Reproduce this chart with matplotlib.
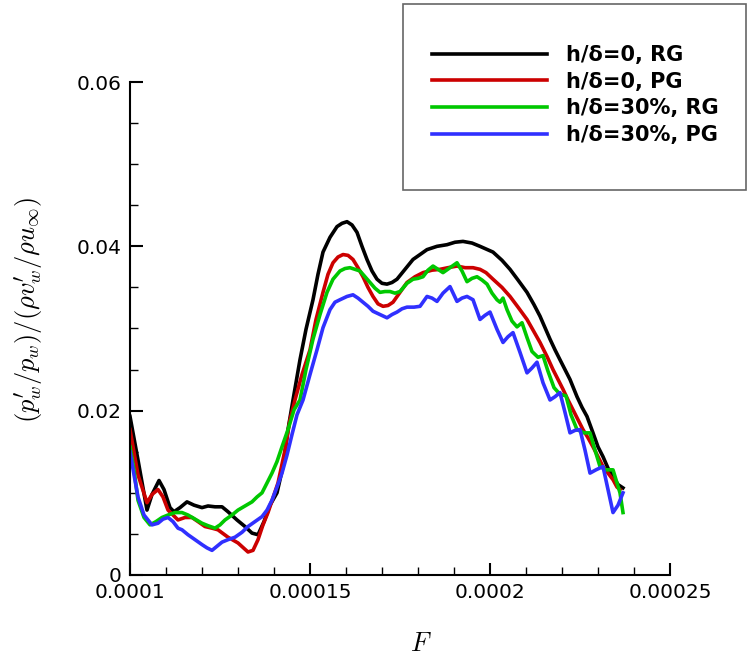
import numpy as np
import matplotlib
matplotlib.use("Agg")
import matplotlib.pyplot as plt
from matplotlib.patches import Rectangle
from matplotlib.ticker import MultipleLocator, FixedLocator, FuncFormatter

plt.rcParams['mathtext.fontset'] = 'cm'
plt.rcParams['font.family'] = ['DejaVu Sans']

# ---- data: F (in units of 1e-4) and normalised pressure/velocity ratio ----
F_rg0 = np.array([1.0000, 1.0222, 1.0472, 1.0611, 1.0806, 1.0944, 1.1111, 1.1222, 1.1389, 1.1583,
                  1.1778, 1.2000, 1.2167, 1.2361, 1.2556, 1.2722, 1.2972, 1.3194, 1.3389, 1.3556,
                  1.3722, 1.3889, 1.4083, 1.4250, 1.4389, 1.4528, 1.4722, 1.4889, 1.5083, 1.5222,
                  1.5361, 1.5556, 1.5750, 1.5889, 1.6028, 1.6167, 1.6306, 1.6444, 1.6583, 1.6722,
                  1.6861, 1.7000, 1.7139, 1.7278, 1.7417, 1.7639, 1.7861, 1.8056, 1.8250, 1.8528,
                  1.8806, 1.9028, 1.9250, 1.9500, 1.9722, 2.0083, 2.0333, 2.0556, 2.0778, 2.1028,
                  2.1222, 2.1389, 2.1528, 2.1667, 2.1806, 2.1944, 2.2083, 2.2222, 2.2417, 2.2556,
                  2.2694, 2.2861, 2.3000, 2.3139, 2.3278, 2.3417, 2.3556, 2.3694]) * 1e-4
R_rg0 = [0.0193, 0.0140, 0.0079, 0.0098, 0.0115, 0.0104, 0.0082, 0.0077, 0.0082, 0.0089,
         0.0085, 0.0082, 0.0084, 0.0083, 0.0083, 0.0077, 0.0067, 0.0059, 0.0051, 0.0049,
         0.0065, 0.0085, 0.0100, 0.0132, 0.0177, 0.0213, 0.0262, 0.0299, 0.0335, 0.0366,
         0.0393, 0.0411, 0.0424, 0.0428, 0.0430, 0.0426, 0.0417, 0.0400, 0.0384, 0.0370,
         0.0360, 0.0355, 0.0354, 0.0356, 0.0360, 0.0372, 0.0384, 0.0390, 0.0396, 0.0400,
         0.0402, 0.0405, 0.0406, 0.0404, 0.0400, 0.0393, 0.0383, 0.0372, 0.0359, 0.0344,
         0.0329, 0.0315, 0.0301, 0.0287, 0.0274, 0.0262, 0.0250, 0.0238, 0.0217, 0.0204,
         0.0193, 0.0173, 0.0156, 0.0144, 0.0130, 0.0120, 0.0110, 0.0106]

F_pg0 = np.array([1.0000, 1.0222, 1.0472, 1.0611, 1.0778, 1.0917, 1.1056, 1.1333, 1.1528, 1.1722,
                  1.1889, 1.2083, 1.2278, 1.2444, 1.2722, 1.3000, 1.3278, 1.3417, 1.3556, 1.3694,
                  1.3833, 1.3972, 1.4111, 1.4306, 1.4444, 1.4583, 1.4778, 1.5000, 1.5167, 1.5361,
                  1.5500, 1.5639, 1.5778, 1.5917, 1.6056, 1.6194, 1.6333, 1.6472, 1.6611, 1.6750,
                  1.6889, 1.7028, 1.7167, 1.7306, 1.7500, 1.7694, 1.7917, 1.8139, 1.8389, 1.8611,
                  1.8833, 1.9083, 1.9306, 1.9528, 1.9722, 1.9889, 2.0083, 2.0333, 2.0556, 2.0778,
                  2.1028, 2.1222, 2.1389, 2.1583, 2.1750, 2.1889, 2.2028, 2.2167, 2.2306, 2.2444,
                  2.2583, 2.2722, 2.2861, 2.3000, 2.3139, 2.3278, 2.3417, 2.3528, 2.3611]) * 1e-4
R_pg0 = [0.0177, 0.0122, 0.0088, 0.0098, 0.0104, 0.0095, 0.0079, 0.0067, 0.0070, 0.0070,
         0.0065, 0.0059, 0.0057, 0.0055, 0.0046, 0.0039, 0.0028, 0.0030, 0.0043, 0.0061,
         0.0076, 0.0094, 0.0112, 0.0152, 0.0189, 0.0213, 0.0244, 0.0274, 0.0311, 0.0344,
         0.0366, 0.0380, 0.0387, 0.0390, 0.0389, 0.0384, 0.0374, 0.0363, 0.0350, 0.0339,
         0.0330, 0.0327, 0.0328, 0.0332, 0.0344, 0.0356, 0.0363, 0.0368, 0.0371, 0.0372,
         0.0374, 0.0376, 0.0374, 0.0374, 0.0372, 0.0368, 0.0360, 0.0350, 0.0339, 0.0326,
         0.0311, 0.0296, 0.0283, 0.0266, 0.0250, 0.0238, 0.0226, 0.0213, 0.0201, 0.0189,
         0.0177, 0.0167, 0.0156, 0.0144, 0.0132, 0.0124, 0.0116, 0.0107, 0.0104]

F_rg30 = np.array([1.0000, 1.0111, 1.0222, 1.0389, 1.0556, 1.0722, 1.0889, 1.1056, 1.1250, 1.1444,
                   1.1611, 1.1806, 1.2000, 1.2167, 1.2361, 1.2500, 1.2639, 1.2833, 1.3000, 1.3194,
                   1.3389, 1.3528, 1.3667, 1.3806, 1.3944, 1.4083, 1.4222, 1.4389, 1.4556, 1.4722,
                   1.4889, 1.5083, 1.5278, 1.5472, 1.5639, 1.5833, 1.5972, 1.6111, 1.6250, 1.6389,
                   1.6528, 1.6667, 1.6806, 1.6944, 1.7083, 1.7222, 1.7361, 1.7500, 1.7694, 1.7861,
                   1.8000, 1.8139, 1.8278, 1.8417, 1.8556, 1.8694, 1.8889, 1.9083, 1.9222, 1.9361,
                   1.9500, 1.9639, 1.9778, 1.9917, 2.0056, 2.0194, 2.0278, 2.0361, 2.0472, 2.0611,
                   2.0750, 2.0889, 2.1028, 2.1167, 2.1333, 2.1472, 2.1611, 2.1778, 2.1944, 2.2111,
                   2.2250, 2.2417, 2.2611, 2.2778, 2.2917, 2.3056, 2.3222, 2.3417, 2.3528, 2.3611,
                   2.3694]) * 1e-4
R_rg30 = [0.0156, 0.0128, 0.0091, 0.0070, 0.0061, 0.0065, 0.0070, 0.0073, 0.0076, 0.0076,
          0.0073, 0.0068, 0.0063, 0.0060, 0.0057, 0.0061, 0.0067, 0.0073, 0.0079, 0.0084,
          0.0089, 0.0095, 0.0100, 0.0112, 0.0124, 0.0138, 0.0156, 0.0177, 0.0201, 0.0213,
          0.0250, 0.0287, 0.0317, 0.0344, 0.0360, 0.0370, 0.0373, 0.0374, 0.0372, 0.0370,
          0.0363, 0.0356, 0.0349, 0.0344, 0.0345, 0.0345, 0.0343, 0.0345, 0.0355, 0.0360,
          0.0361, 0.0363, 0.0371, 0.0376, 0.0372, 0.0368, 0.0374, 0.0380, 0.0370, 0.0357,
          0.0361, 0.0363, 0.0359, 0.0354, 0.0343, 0.0335, 0.0332, 0.0337, 0.0323, 0.0309,
          0.0302, 0.0307, 0.0289, 0.0272, 0.0265, 0.0267, 0.0248, 0.0228, 0.0220, 0.0218,
          0.0195, 0.0177, 0.0173, 0.0173, 0.0152, 0.0132, 0.0128, 0.0128, 0.0112, 0.0100,
          0.0076]

F_pg30 = np.array([1.0000, 1.0111, 1.0222, 1.0389, 1.0611, 1.0778, 1.0917, 1.1056, 1.1194, 1.1333,
                   1.1444, 1.1611, 1.1806, 1.2000, 1.2139, 1.2278, 1.2417, 1.2556, 1.2722, 1.2917,
                   1.3111, 1.3278, 1.3472, 1.3667, 1.3806, 1.3944, 1.4083, 1.4222, 1.4361, 1.4500,
                   1.4639, 1.4806, 1.5000, 1.5194, 1.5361, 1.5556, 1.5694, 1.5833, 1.6028, 1.6194,
                   1.6333, 1.6472, 1.6611, 1.6750, 1.6944, 1.7139, 1.7278, 1.7417, 1.7556, 1.7694,
                   1.7889, 1.8056, 1.8250, 1.8389, 1.8528, 1.8694, 1.8889, 1.9083, 1.9222, 1.9361,
                   1.9528, 1.9722, 1.9861, 2.0000, 2.0194, 2.0361, 2.0500, 2.0639, 2.0833, 2.1028,
                   2.1167, 2.1306, 2.1472, 2.1667, 2.1806, 2.1944, 2.2083, 2.2222, 2.2361, 2.2500,
                   2.2639, 2.2778, 2.2944, 2.3139, 2.3278, 2.3417, 2.3556, 2.3694]) * 1e-4
R_pg30 = [0.0150, 0.0122, 0.0095, 0.0073, 0.0061, 0.0063, 0.0068, 0.0070, 0.0065, 0.0057,
          0.0055, 0.0049, 0.0043, 0.0037, 0.0033, 0.0030, 0.0035, 0.0040, 0.0043, 0.0046,
          0.0052, 0.0059, 0.0065, 0.0071, 0.0079, 0.0091, 0.0107, 0.0124, 0.0146, 0.0171,
          0.0195, 0.0213, 0.0244, 0.0274, 0.0301, 0.0323, 0.0332, 0.0335, 0.0339, 0.0341,
          0.0337, 0.0332, 0.0327, 0.0321, 0.0317, 0.0313, 0.0317, 0.0320, 0.0324, 0.0326,
          0.0326, 0.0327, 0.0339, 0.0337, 0.0333, 0.0343, 0.0351, 0.0333, 0.0337, 0.0339,
          0.0335, 0.0311, 0.0316, 0.0320, 0.0299, 0.0283, 0.0290, 0.0295, 0.0271, 0.0246,
          0.0252, 0.0259, 0.0234, 0.0213, 0.0217, 0.0222, 0.0198, 0.0173, 0.0176, 0.0177,
          0.0152, 0.0124, 0.0128, 0.0132, 0.0104, 0.0076, 0.0085, 0.0100]

labels = [u"h/\u03b4=0, RG", u"h/\u03b4=0, PG", u"h/\u03b4=30%, RG", u"h/\u03b4=30%, PG"]
colors = ["#000000", "#cc0000", "#00c800", "#3030ff"]
series = [(F_rg0, R_rg0), (F_pg0, R_pg0), (F_rg30, R_rg30), (F_pg30, R_pg30)]

W, H = 748, 660
fig = plt.figure(figsize=(W / 100, H / 100), dpi=100)
ax = fig.add_axes([130 / W, 85 / H, 540 / W, 493 / H])

handles = []
for (f, r), c, lab in zip(series, colors, labels):
    ln, = ax.plot(f, r, color=c, lw=2.6, label=lab, solid_joinstyle='round')
    handles.append(ln)

ax.set_xlim(1e-4, 2.5e-4)
ax.set_ylim(0, 0.06)
for s in ("top", "right"):
    ax.spines[s].set_visible(False)
for s in ("left", "bottom"):
    ax.spines[s].set_linewidth(1.5)

ax.xaxis.set_major_locator(FixedLocator([1e-4, 1.5e-4, 2e-4, 2.5e-4]))
ax.xaxis.set_minor_locator(MultipleLocator(1e-5))
ax.yaxis.set_major_locator(FixedLocator([0, 0.02, 0.04, 0.06]))
ax.yaxis.set_minor_locator(MultipleLocator(0.005))
fmt = FuncFormatter(lambda v, p: "%g" % round(v, 8))
ax.xaxis.set_major_formatter(fmt)
ax.yaxis.set_major_formatter(fmt)
ax.tick_params(which="major", direction="in", length=9, width=1.5, labelsize=14.5, pad=6)
ax.tick_params(which="minor", direction="in", length=5.5, width=1.0)

fig.text(29 / W, 1 - 310 / H, r"$(p_w^{\prime}/p_w)/(\rho v_w^{\prime}/\rho u_\infty)$",
         rotation=90, ha="center", va="center", fontsize=19)
fig.text(421 / W, 1 - 644 / H, r"$F$", ha="center", va="center", fontsize=19)

# legend box
fig.patches.append(Rectangle((403 / W, 1 - 190 / H), 343 / W, 186 / H,
                             transform=fig.transFigure, fill=False,
                             edgecolor="#666666", lw=1.2))
fig.legend(handles=handles, labels=labels, loc="upper left",
           bbox_to_anchor=(432 / W, 1 - 45 / H), frameon=False,
           prop={"weight": "bold", "size": 15}, handlelength=5.5,
           handletextpad=0.95, labelspacing=0.32, borderpad=0, borderaxespad=0)

fig.savefig("out.png", dpi=100)
